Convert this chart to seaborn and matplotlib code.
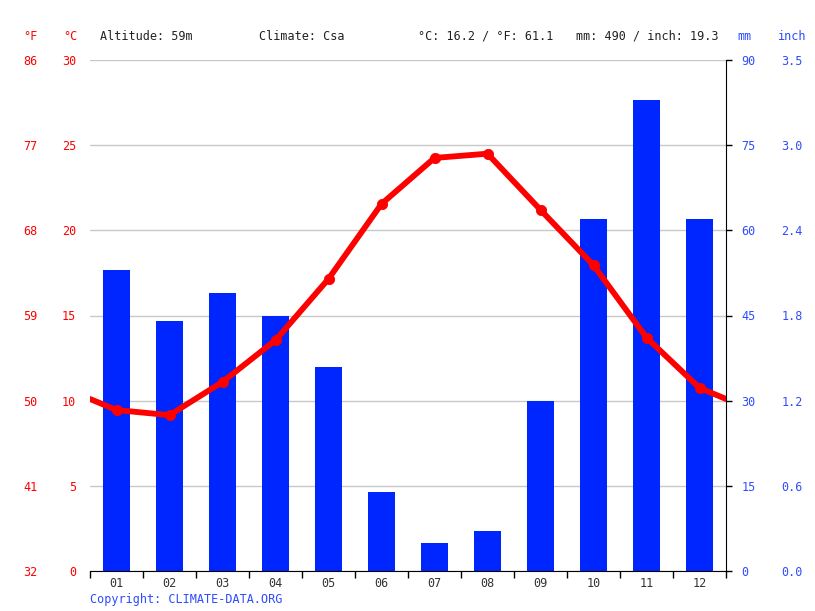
import numpy as np
import pandas as pd
import matplotlib
matplotlib.use("Agg")
import matplotlib.pyplot as plt
import seaborn as sns

# Monthly climate values
months = ["01", "02", "03", "04", "05", "06", "07", "08", "09", "10", "11", "12"]
precip_mm = [53, 44, 49, 45, 36, 14, 5, 7, 30, 62, 83, 62]
temp_c = [9.45, 9.15, 11.1, 13.55, 17.15, 21.55, 24.25, 24.5, 21.2, 17.95, 13.7, 10.75]
edge_c = 10.1  # value where the line meets the left/right plot edges

temp_ticks = [0, 5, 10, 15, 20, 25, 30]
f_labels = ["32", "41", "50", "59", "68", "77", "86"]
mm_ticks = [0, 15, 30, 45, 60, 75, 90]
inch_labels = ["0.0", "0.6", "1.2", "1.8", "2.4", "3.0", "3.5"]

red = "#ff0000"
blue = "#0026ff"
label_blue = "#2e4cff"
fs = 8.5

sns.set_style("white")
plt.rcParams["font.family"] = ["DejaVu Sans Mono"]
plt.rcParams["font.size"] = fs

fig = plt.figure(figsize=(8.15, 6.11), dpi=100)
ax = fig.add_axes([90 / 815, 40 / 611, 636 / 815, 511 / 611])

# precipitation bars (mm axis, right side)
bars = pd.DataFrame({"month": months, "mm": precip_mm})
sns.barplot(data=bars, x="month", y="mm", color=blue, saturation=1, width=0.5,
            linewidth=0, ax=ax)
ax.set_ylim(0, 90)
ax.set_xlim(-0.5, 11.5)
ax.set_yticks(mm_ticks)
ax.grid(axis="y", color="#c8c8c8", linewidth=1)
ax.set_axisbelow(True)
for side in ["top", "left"]:
    ax.spines[side].set_visible(False)
ax.spines["right"].set_color("black")
ax.spines["bottom"].set_color("black")
ax.set_xlabel("")
ax.set_ylabel("")
ax.set_xticks(range(12), months)
ax.set_xticks(np.arange(-0.5, 12, 1), minor=True)
ax.tick_params(axis="x", which="major", length=0, pad=4, labelcolor="#333333", labelsize=fs)
ax.tick_params(axis="x", which="minor", length=5, width=1, color="black", bottom=True)

# temperature line (°C axis, left side)
axt = ax.twinx()
line = pd.DataFrame({"x": [-0.5] + list(range(12)) + [11.5],
                     "c": [edge_c] + temp_c + [edge_c]})
sns.lineplot(data=line, x="x", y="c", color=red, linewidth=4.2, ax=axt)
pts = pd.DataFrame({"x": list(range(12)), "c": temp_c})
sns.scatterplot(data=pts, x="x", y="c", color=red, s=55, edgecolor=red, zorder=5, ax=axt)
axt.set_ylim(0, 30)
axt.set_xlim(-0.5, 11.5)
axt.yaxis.tick_left()
axt.set_yticks(temp_ticks)
axt.tick_params(axis="y", length=0, pad=10, labelcolor=red, labelsize=fs)
axt.set_xlabel("")
axt.set_ylabel("")
for side in axt.spines:
    axt.spines[side].set_visible(False)

# °F labels
axf = ax.twinx()
axf.set_ylim(0, 30)
axf.yaxis.tick_left()
axf.set_yticks(temp_ticks, f_labels)
axf.tick_params(axis="y", length=0, pad=38, labelcolor=red, labelsize=fs)
for side in axf.spines:
    axf.spines[side].set_visible(False)

# inch labels
axi = ax.twinx()
axi.set_ylim(0, 90)
axi.yaxis.tick_right()
axi.set_yticks(mm_ticks, inch_labels)
axi.tick_params(axis="y", length=0, pad=40, labelcolor=label_blue, labelsize=fs)
for side in axi.spines:
    axi.spines[side].set_visible(False)

# twinx moves the parent's ticks to the left, so put the mm ticks back on the right
ax.yaxis.tick_right()
ax.tick_params(axis="y", labelcolor=label_blue, color="black", length=4, width=1,
               pad=7, labelsize=fs)

# headers
hy = 1 - 36 / 611
txt = "#222222"
fig.text(30 / 815, hy, "°F", color=red, ha="center", va="center", fontsize=fs)
fig.text(70 / 815, hy, "°C", color=red, ha="center", va="center", fontsize=fs)
fig.text(744 / 815, hy, "mm", color=label_blue, ha="center", va="center", fontsize=fs)
fig.text(792 / 815, hy, "inch", color=label_blue, ha="center", va="center", fontsize=fs)
fig.text(100 / 815, hy, "Altitude: 59m", color=txt, ha="left", va="center", fontsize=fs)
fig.text(259 / 815, hy, "Climate: Csa", color=txt, ha="left", va="center", fontsize=fs)
fig.text(418 / 815, hy, "°C: 16.2 / °F: 61.1", color=txt, ha="left", va="center", fontsize=fs)
fig.text(576 / 815, hy, "mm: 490 / inch: 19.3", color=txt, ha="left", va="center", fontsize=fs)
fig.text(90 / 815, 1 - 599 / 611, "Copyright: CLIMATE-DATA.ORG", color=label_blue,
         ha="left", va="center", fontsize=fs)

fig.savefig("out.png", dpi=100)
